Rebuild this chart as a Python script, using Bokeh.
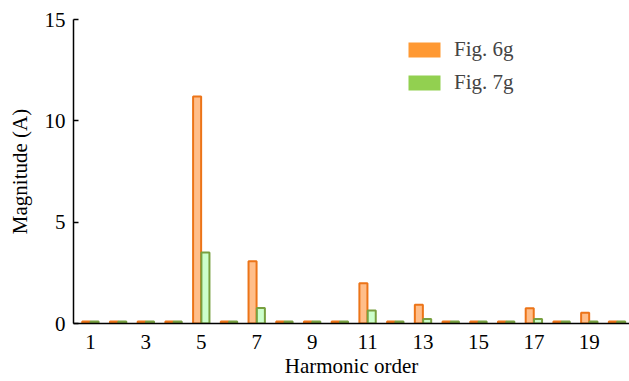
from bokeh.plotting import figure
from bokeh.models import ColumnDataSource, Range1d, FixedTicker, Legend, LegendItem
from bokeh.transform import dodge
from bokeh.embed import file_html
from bokeh.resources import INLINE

harmonics = list(range(1, 21))
fig6g = [0.1, 0.1, 0.1, 0.1, 11.2, 0.1, 3.07, 0.1, 0.1, 0.1, 1.99, 0.1, 0.92, 0.1, 0.1, 0.1, 0.75, 0.1, 0.53, 0.1]
fig7g = [0.1, 0.1, 0.1, 0.1, 3.5, 0.1, 0.77, 0.1, 0.1, 0.1, 0.64, 0.1, 0.22, 0.1, 0.1, 0.1, 0.22, 0.1, 0.1, 0.1]
x_ticks = [1, 3, 5, 7, 9, 11, 13, 15, 17, 19]
y_ticks = [0, 5, 10, 15]

FONT = "Liberation Serif"
FS = "21px"

src = ColumnDataSource(dict(h=harmonics, a=fig6g, b=fig7g))

p = figure(width=629, height=381, output_backend="svg", toolbar_location=None,
           x_range=Range1d(0.39, 20.45), y_range=Range1d(0, 15),
           min_border_left=73, min_border_right=0, min_border_top=19, min_border_bottom=58)
p.outline_line_color = None
p.grid.visible = False
p.background_fill_color = "white"

r1 = p.vbar(x=dodge("h", -0.15, range=p.x_range), top="a", width=0.29, source=src,
            fill_color="#FFBE8A", line_color="#EC7418", line_width=2)
r2 = p.vbar(x=dodge("h", 0.15, range=p.x_range), top="b", width=0.29, source=src,
            fill_color="#CCFFCC", line_color="#78A040", line_width=2)

# legend proxies (solid patches), placed outside the visible range
proxy = ColumnDataSource(dict(x=[-50], t=[1]))
l1 = p.vbar(x="x", top="t", width=0.3, source=proxy, fill_color="#FF9933", line_color=None)
l2 = p.vbar(x="x", top="t", width=0.3, source=proxy, fill_color="#92D050", line_color=None)

legend = Legend(items=[LegendItem(label="Fig. 6g", renderers=[l1]),
                       LegendItem(label="Fig. 7g", renderers=[l2])],
                location=(331, 228), glyph_width=40, glyph_height=19,
                label_text_font=FONT, label_text_font_size=FS, label_standoff=10,
                label_height=20, spacing=8, padding=0, margin=0,
                border_line_color=None, background_fill_alpha=0)
p.add_layout(legend)

for ax in (p.xaxis[0], p.yaxis[0]):
    ax.axis_line_color = "black"
    ax.axis_line_width = 1.5
    ax.major_label_text_font = FONT
    ax.major_label_text_font_size = FS
    ax.major_label_text_color = "black"
    ax.axis_label_text_font = FONT
    ax.axis_label_text_font_size = FS
    ax.axis_label_text_font_style = "normal"
    ax.axis_label_text_color = "black"
    ax.minor_tick_line_color = None

p.xaxis[0].ticker = FixedTicker(ticks=x_ticks)
p.xaxis[0].major_tick_line_color = None
p.xaxis[0].major_label_standoff = 5
p.xaxis[0].axis_label = "Harmonic order"
p.xaxis[0].axis_label_standoff = 2

p.yaxis[0].ticker = FixedTicker(ticks=y_ticks)
p.yaxis[0].major_tick_in = 5
p.yaxis[0].major_tick_out = 0
p.yaxis[0].major_tick_line_width = 1.5
p.yaxis[0].major_label_standoff = 8
p.yaxis[0].axis_label = "Magnitude (A)"
p.yaxis[0].axis_label_standoff = 10

open("out.html", "w").write(file_html(p, INLINE))
